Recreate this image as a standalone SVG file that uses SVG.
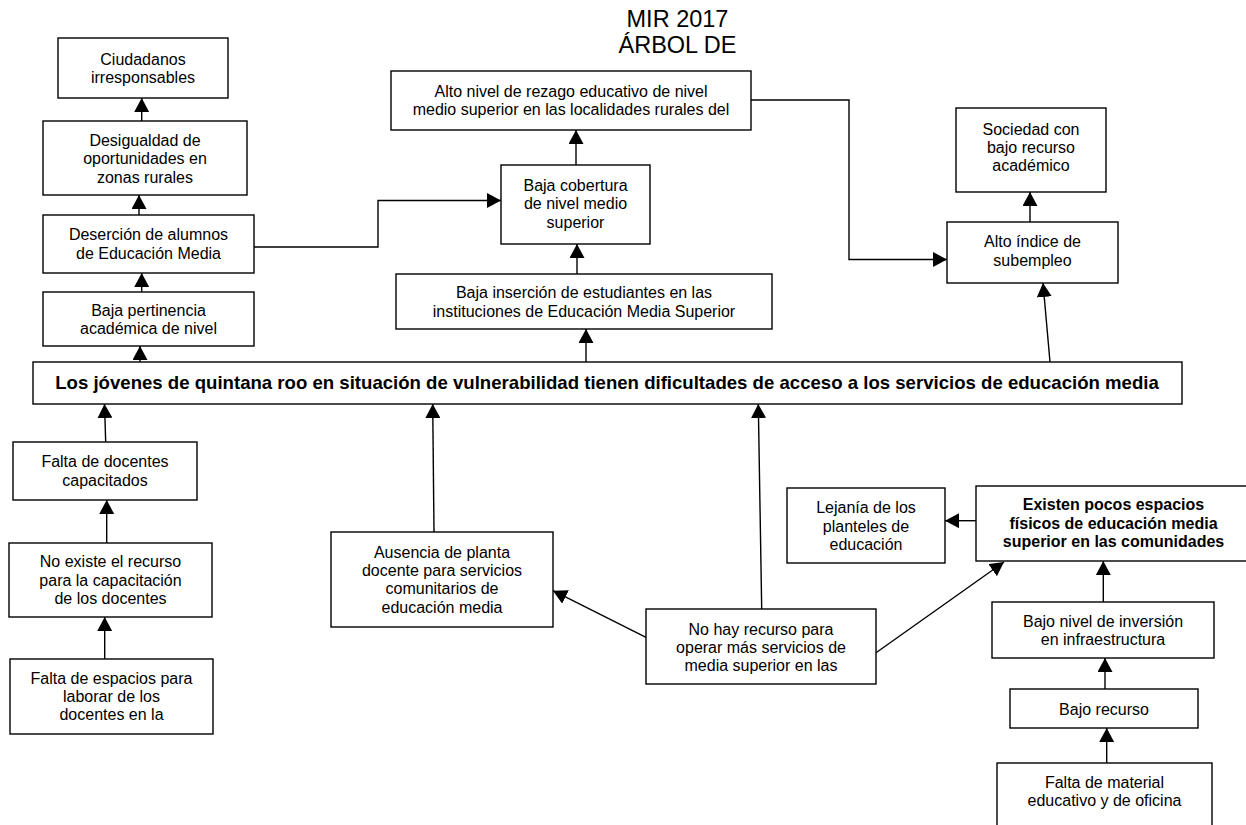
<svg xmlns="http://www.w3.org/2000/svg" width="1246" height="825" viewBox="0 0 1246 825">
<style>
.box{fill:#fff;stroke:#000;stroke-width:1.4}
.t{font-family:"Liberation Sans",Arial,sans-serif;font-size:16px;fill:#000;text-anchor:middle}
.b{font-weight:bold}
.c{fill:none;stroke:#000;stroke-width:1.4}
.title{font-family:"Liberation Sans",Arial,sans-serif;font-size:23.5px;fill:#000;text-anchor:middle}
</style>
<defs>
<marker id="ah" markerUnits="userSpaceOnUse" markerWidth="15" markerHeight="15" refX="14" refY="7.5" orient="auto" viewBox="0 0 15 15">
<path d="M0,0 L14,7.5 L0,15 z" fill="#000"/>
</marker>
</defs>
<rect width="1246" height="825" fill="#fff"/>
<g id="title">
<text class="title" x="677.5" y="27">MIR 2017</text>
<text class="title" x="677.5" y="53">ÁRBOL DE</text>
</g>
<g id="connectors">
<path class="c" marker-end="url(#ah)" d="M141.7,121 L141.7,98"/>
<path class="c" marker-end="url(#ah)" d="M139,215 L139,195"/>
<path class="c" marker-end="url(#ah)" d="M141.7,292 L141.7,273"/>
<path class="c" marker-end="url(#ah)" d="M140,362 L140,346"/>
<path class="c" marker-end="url(#ah)" d="M254,247 L378,247 L378,200.5 L501,200.5"/>
<path class="c" marker-end="url(#ah)" d="M576,165 L576,130"/>
<path class="c" marker-end="url(#ah)" d="M577,274 L577,244"/>
<path class="c" marker-end="url(#ah)" d="M586,362 L586,329"/>
<path class="c" marker-end="url(#ah)" d="M751,100 L849,100 L849,259.5 L947,259.5"/>
<path class="c" marker-end="url(#ah)" d="M1030,222 L1030,192"/>
<path class="c" marker-end="url(#ah)" d="M1050,362 L1043,283"/>
<path class="c" marker-end="url(#ah)" d="M105.7,442 L104.5,404"/>
<path class="c" marker-end="url(#ah)" d="M106.7,543 L106.7,500"/>
<path class="c" marker-end="url(#ah)" d="M104.7,659 L104.7,617"/>
<path class="c" marker-end="url(#ah)" d="M434,532 L432.7,404"/>
<path class="c" marker-end="url(#ah)" d="M761.7,609 L758.3,404"/>
<path class="c" marker-end="url(#ah)" d="M646,637.3 L553,590.7"/>
<path class="c" marker-end="url(#ah)" d="M876,652.7 L1004,562"/>
<path class="c" marker-end="url(#ah)" d="M976,520.7 L945,520.7"/>
<path class="c" marker-end="url(#ah)" d="M1103.3,602 L1103.3,561"/>
<path class="c" marker-end="url(#ah)" d="M1105,689 L1105,658"/>
<path class="c" marker-end="url(#ah)" d="M1106.7,763 L1106.7,728"/>
</g>
<g id="n-ciudadanos">
<rect class="box" x="58" y="38" width="170" height="60"/>
<text class="t" x="143" y="64.5">Ciudadanos</text>
<text class="t" x="143" y="82.8">irresponsables</text>
</g>
<g id="n-desigualdad">
<rect class="box" x="43" y="121" width="204" height="74"/>
<text class="t" x="145" y="146">Desigualdad de</text>
<text class="t" x="145" y="164.3">oportunidades en</text>
<text class="t" x="145" y="182.6">zonas rurales</text>
</g>
<g id="n-desercion">
<rect class="box" x="43" y="215" width="211" height="58"/>
<text class="t" x="148.5" y="240.3">Deserción de alumnos</text>
<text class="t" x="148.5" y="258.6">de Educación Media</text>
</g>
<g id="n-pertinencia">
<rect class="box" x="43" y="292" width="211" height="54"/>
<text class="t" x="148.5" y="316">Baja pertinencia</text>
<text class="t" x="148.5" y="334.3">académica de nivel</text>
</g>
<g id="n-alto-nivel">
<rect class="box" x="391" y="71" width="360" height="59"/>
<text class="t" x="571" y="97">Alto nivel de rezago educativo de nivel</text>
<text class="t" x="571" y="115.3">medio superior en las localidades rurales del</text>
</g>
<g id="n-cobertura">
<rect class="box" x="501" y="165" width="149" height="79"/>
<text class="t" x="575.5" y="191">Baja cobertura</text>
<text class="t" x="575.5" y="209.3">de nivel medio</text>
<text class="t" x="575.5" y="227.6">superior</text>
</g>
<g id="n-insercion">
<rect class="box" x="396" y="274" width="376" height="55"/>
<text class="t" x="584" y="298.3">Baja inserción de estudiantes en las</text>
<text class="t" x="584" y="316.6">instituciones de Educación Media Superior</text>
</g>
<g id="n-sociedad">
<rect class="box" x="956" y="108" width="150" height="84"/>
<text class="t" x="1031" y="134.5">Sociedad con</text>
<text class="t" x="1031" y="152.8">bajo recurso</text>
<text class="t" x="1031" y="171.1">académico</text>
</g>
<g id="n-subempleo">
<rect class="box" x="947" y="222" width="171" height="61"/>
<text class="t" x="1032.5" y="247.2">Alto índice de</text>
<text class="t" x="1032.5" y="265.5">subempleo</text>
</g>
<g id="n-main">
<rect class="box" x="33" y="362" width="1149" height="42"/>
<text class="t b" x="607" y="389" style="font-size:18.6px">Los jóvenes de quintana roo en situación de vulnerabilidad tienen dificultades de acceso a los servicios de educación media</text>
</g>
<g id="n-falta-docentes">
<rect class="box" x="13" y="442" width="184" height="58"/>
<text class="t" x="105" y="467.2">Falta de docentes</text>
<text class="t" x="105" y="485.5">capacitados</text>
</g>
<g id="n-no-existe">
<rect class="box" x="9" y="543" width="203" height="74"/>
<text class="t" x="110.5" y="567.4">No existe el recurso</text>
<text class="t" x="110.5" y="585.7">para la capacitación</text>
<text class="t" x="110.5" y="604">de los docentes</text>
</g>
<g id="n-falta-espacios">
<rect class="box" x="10" y="659" width="203" height="75"/>
<text class="t" x="111.5" y="683.6">Falta de espacios para</text>
<text class="t" x="111.5" y="701.9">laborar de los</text>
<text class="t" x="111.5" y="720.2">docentes en la</text>
</g>
<g id="n-ausencia">
<rect class="box" x="331" y="532" width="222" height="95"/>
<text class="t" x="442" y="557.7">Ausencia de planta</text>
<text class="t" x="442" y="576">docente para servicios</text>
<text class="t" x="442" y="594.3">comunitarios de</text>
<text class="t" x="442" y="612.6">educación media</text>
</g>
<g id="n-no-hay">
<rect class="box" x="646" y="609" width="230" height="75"/>
<text class="t" x="761" y="634.5">No hay recurso para</text>
<text class="t" x="761" y="652.8">operar más servicios de</text>
<text class="t" x="761" y="671.1">media superior en las</text>
</g>
<g id="n-lejania">
<rect class="box" x="787" y="488" width="158" height="75"/>
<text class="t" x="866" y="513.2">Lejanía de los</text>
<text class="t" x="866" y="531.5">planteles de</text>
<text class="t" x="866" y="549.8">educación</text>
</g>
<g id="n-existen">
<rect class="box" x="976" y="486" width="275" height="75"/>
<text class="t b" x="1113.5" y="510.3">Existen pocos espacios</text>
<text class="t b" x="1113.5" y="528.6">físicos de educación media</text>
<text class="t b" x="1113.5" y="546.9">superior en las comunidades</text>
</g>
<g id="n-inversion">
<rect class="box" x="992" y="602" width="222" height="56"/>
<text class="t" x="1103" y="626.7">Bajo nivel de inversión</text>
<text class="t" x="1103" y="645">en infraestructura</text>
</g>
<g id="n-bajo-recurso">
<rect class="box" x="1010" y="689" width="188" height="39"/>
<text class="t" x="1104" y="714.8">Bajo recurso</text>
</g>
<g id="n-material">
<rect class="box" x="997" y="763" width="215" height="80"/>
<text class="t" x="1104.5" y="787.7">Falta de material</text>
<text class="t" x="1104.5" y="806">educativo y de oficina</text>
</g>
</svg>
